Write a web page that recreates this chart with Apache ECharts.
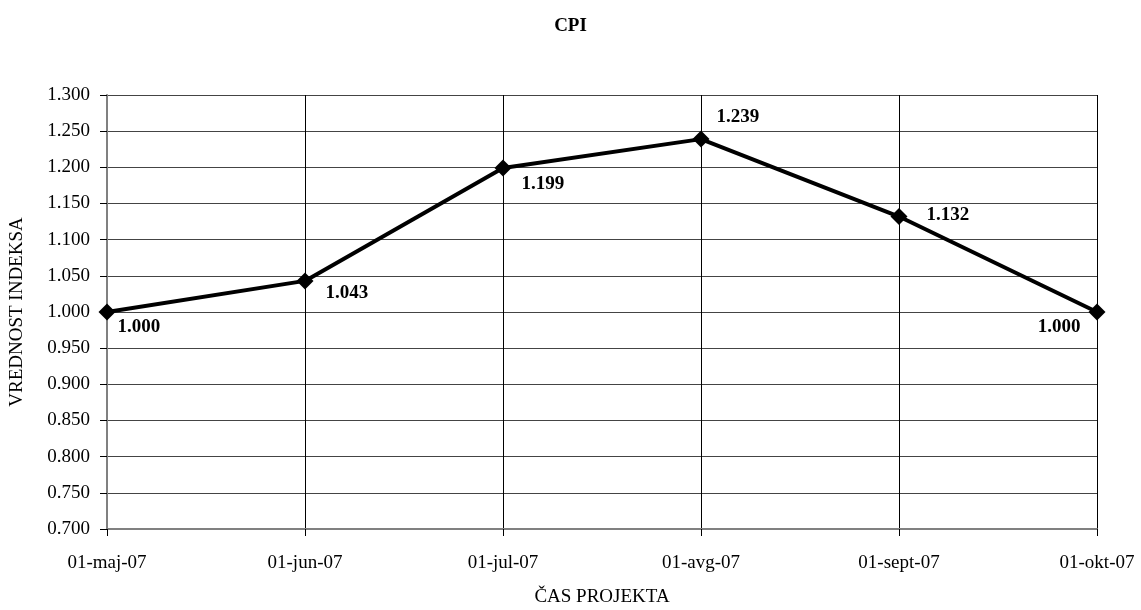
<!DOCTYPE html>
<html>
<head>
<meta charset="utf-8">
<script src="https://cdn.jsdelivr.net/npm/echarts@6/dist/echarts.min.js"></script>
<style>
  html, body { margin: 0; padding: 0; background: #fff; }
  #chart { width: 1141px; height: 610px; }
</style>
</head>
<body>
<div id="chart"></div>
<script>
// Project periods and cost performance index values
const categories = ['01-maj-07', '01-jun-07', '01-jul-07', '01-avg-07', '01-sept-07', '01-okt-07'];
const cpiValues = [1.000, 1.043, 1.199, 1.239, 1.132, 1.000];
const chartTitle = 'CPI';
const xAxisName = 'ČAS PROJEKTA';
const yAxisName = 'VREDNOST INDEKSA';

// Where each value label sits relative to its point
const labelPlacement = [
  { position: 'right', offset: [2, 15] },
  { position: 'right', offset: [12, 12] },
  { position: 'right', offset: [10, 16] },
  { position: 'right', offset: [7, -22] },
  { position: 'right', offset: [19, -1] },
  { position: 'left', offset: [-8, 15] }
];

const font = 'Liberation Serif, Times New Roman, serif';

const chart = echarts.init(document.getElementById('chart'));
chart.setOption({
  animation: false,
  backgroundColor: '#fff',
  title: {
    text: chartTitle,
    left: 'center',
    top: 12,
    textStyle: { fontFamily: font, fontSize: 19, fontWeight: 'bold', color: '#000' }
  },
  grid: { left: 107, right: 44, top: 95, bottom: 81, containLabel: false, outerBoundsMode: 'none' },
  xAxis: {
    type: 'category',
    data: categories,
    boundaryGap: false,
    name: xAxisName,
    nameLocation: 'middle',
    nameGap: 59,
    nameTextStyle: { fontFamily: font, fontSize: 19, color: '#000' },
    axisLine: { lineStyle: { color: '#808080', width: 2 } },
    axisTick: { show: true, length: 7, lineStyle: { color: '#000' } },
    axisLabel: { fontFamily: font, fontSize: 19, color: '#000', margin: 25 },
    splitLine: { show: true, lineStyle: { color: '#000', width: 1 } }
  },
  yAxis: {
    type: 'value',
    min: 0.7,
    max: 1.3,
    interval: 0.05,
    name: yAxisName,
    nameLocation: 'middle',
    nameGap: 80,
    nameTextStyle: { fontFamily: font, fontSize: 19, color: '#000' },
    axisLine: { show: true, lineStyle: { color: '#808080', width: 2 } },
    axisTick: { show: true, length: 7, lineStyle: { color: '#000' } },
    axisLabel: {
      fontFamily: font, fontSize: 19, color: '#000', margin: 17,
      formatter: v => v.toFixed(3)
    },
    splitLine: { show: true, lineStyle: { color: '#444', width: 1 } }
  },
  series: [{
    type: 'line',
    data: cpiValues.map((v, i) => ({
      value: v,
      label: labelPlacement[i]
    })),
    symbol: 'diamond',
    symbolSize: 17,
    itemStyle: { color: '#000' },
    lineStyle: { color: '#000', width: 4 },
    label: {
      show: true,
      distance: 0,
      fontFamily: font,
      fontSize: 19,
      fontWeight: 'bold',
      color: '#000',
      formatter: p => p.value.toFixed(3)
    }
  }]
});
</script>
</body>
</html>
